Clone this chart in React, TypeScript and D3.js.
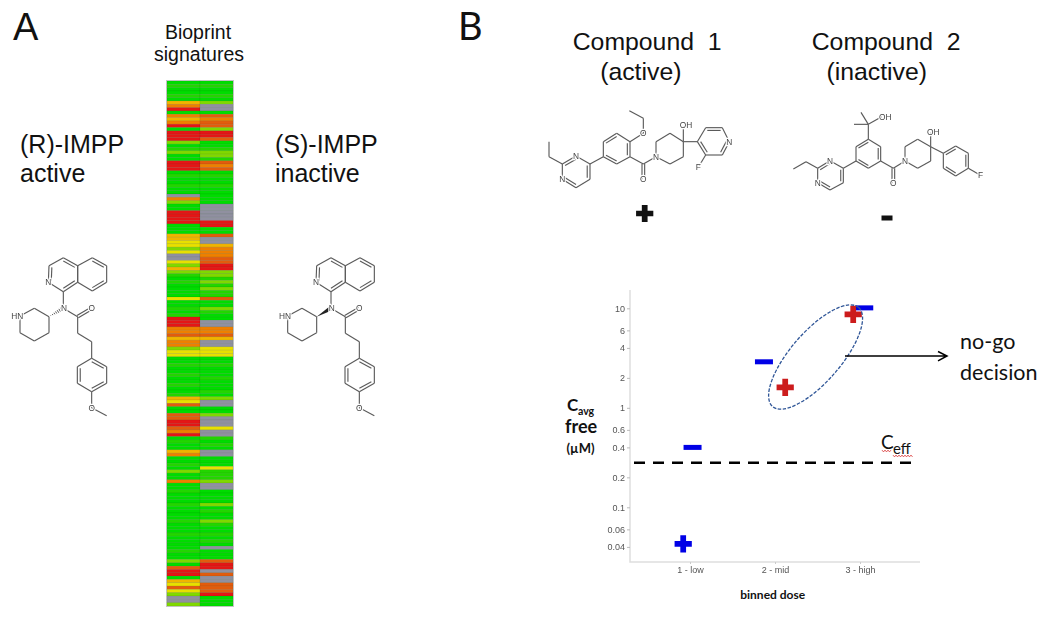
import * as d3 from 'd3';

// heatmap rows, one letter per target, read top to bottom from the picture
// G/g green, L lime, Y yellow, A amber, O orange, D dark orange, R red, X no data
const activeRows =
  'GgGGgGAORGOAORGRRRLGgLGGRRRGgGGgGGXOLGGRRRRGGGAAYYLY' +
  'XXYLALgGgGGGGYGGgGgRRROODAOOLYYGGgGGgGGgGGgAYDGGDDRR' +
  'DORGgGGAOGGgGLGGOGGgGGGgGGGGgGGGgGGGGgGGLGDRRGAYDYLXXL';
const inactiveRows =
  'GgGGgGLXXGDODDLRRDGGgLLgDODGgGGgGGGGGXXXXXRRGGDXXAOO' +
  'ODDRRLLgLgLggDGGLgGGXXOODAXXYYYGGgGGGgGGGgGLXXGGLXXX' +
  'YXXgGgGXXGGGYgggLXXGGGGLGgGGLgGGgGgGXGGGDRRXDXXDDDRG';
const heatColumns = ['(R)-IMPP', '(S)-IMPP'];
const heatCodes = ['G', 'g', 'L', 'Y', 'A', 'O', 'D', 'R', 'X'];
const heatColors = ['#00dc00', '#22d600', '#80d800', '#e8e000', '#f0b400', '#ee8000', '#e25c10', '#e41414', '#9090a0'];

// exposure plot
const doseLabels = ['1 - low', '2 - mid', '3 - high'];
const doseBins = [1, 2, 3];
const cavgTicks = [0.04, 0.06, 0.1, 0.2, 0.4, 0.6, 1, 2, 4, 6, 10];
const activeDose = [0.92, 2.12, 2.92];
const activeCavg = [0.043, 1.6, 8.7];
const activeColor = ['#0000e6', '#cc1a1f', '#cc1a1f'];
const inactiveDose = [1.03, 1.87, 3.05];
const inactiveCavg = [0.4, 2.9, 10.1];
const ceff = 0.28;

const ARIAL = '"Liberation Sans", Arial, sans-serif';
const CALIBRI = 'Lato, "Open Sans", sans-serif';

type Mol = {
  atoms: Record<string, number[]>;
  bonds: string;
  rings: { path: string; dbl: number[] }[];
  carbonyl?: string[];
  wedge?: { from: string; to: string; hashed: boolean };
  labels: { text: string; x: number; y: number }[];
};

// the structures are drawn in the 3x crop coordinates they were read at
const impp = (hashed: boolean): Mol => ({
  atoms: {
    c1: [190, 155], n: [145, 127], c3: [147, 77], c4: [190, 53], c4a: [233, 77], c8a: [233, 127],
    c5: [277, 53], c6: [320, 77], c7: [320, 127], c8: [277, 153],
    am: [190, 205], p3: [147, 230], p2: [103, 205], nh: [60, 228], p6: [60, 278], p5: [103, 303], p4: [147, 278],
    co: [233, 230], o: [275, 205], ch1: [233, 280], ch2: [275, 305],
    a1: [275, 355], a2: [320, 380], a3: [320, 430], a4: [275, 455], a5: [232, 430], a6: [232, 380],
    ome: [275, 503], me: [320, 527],
  },
  bonds: 'c1-am am-co co-ch1 ch1-ch2 ch2-a1 p3-p2 p2-nh nh-p6 p6-p5 p5-p4 p4-p3 a4-ome ome-me',
  rings: [
    { path: 'c1 n c3 c4 c4a c8a', dbl: [1, 3, 5] },
    { path: 'c4a c5 c6 c7 c8 c8a', dbl: [1, 3] },
    { path: 'a1 a2 a3 a4 a5 a6', dbl: [0, 2, 4] },
  ],
  carbonyl: ['co', 'o'],
  wedge: { from: 'p3', to: 'am', hashed },
  labels: [
    { text: 'N', x: 145, y: 127 }, { text: 'N', x: 192, y: 205 }, { text: 'HN', x: 52, y: 228 },
    { text: 'O', x: 275, y: 203 }, { text: 'O', x: 275, y: 503 },
  ],
});

const compound1: Mol = {
  atoms: {
    et2: [27, 155], et1: [27, 200], c2: [67, 222], n3: [108, 198], c4: [150, 222], c5: [150, 268], c6: [108, 293], n1: [67, 268],
    b1: [190, 200], b2: [190, 155], b3: [230, 130], b4: [270, 155], b5: [270, 200], b6: [230, 222],
    oe: [310, 130], oe1: [310, 85], oe2: [268, 62],
    co: [310, 222], o: [310, 268],
    pn: [348, 200], q2: [348, 155], q3: [390, 130], q4: [430, 155], q5: [430, 200], q6: [390, 222],
    oh: [430, 108],
    r1: [472, 155], r2: [497, 113], r3: [547, 113], r4: [568, 155], r5: [547, 195], r6: [497, 195], f: [475, 232],
  },
  bonds: 'et2-et1 et1-c2 c4-b1 b4-oe oe-oe1 oe1-oe2 b5-co co-pn pn-q2 q2-q3 q3-q4 q4-q5 q5-q6 q6-pn q4-oh q4-r1 r6-f',
  rings: [
    { path: 'c2 n3 c4 c5 c6 n1', dbl: [0, 2, 4] },
    { path: 'b1 b2 b3 b4 b5 b6', dbl: [1, 3, 5] },
    { path: 'r1 r2 r3 r4 r5 r6', dbl: [1, 3, 5] },
  ],
  carbonyl: ['co', 'o'],
  labels: [
    { text: 'N', x: 108, y: 198 }, { text: 'N', x: 67, y: 268 }, { text: 'O', x: 310, y: 130 }, { text: 'O', x: 310, y: 268 },
    { text: 'N', x: 348, y: 200 }, { text: 'OH', x: 438, y: 106 }, { text: 'N', x: 568, y: 155 }, { text: 'F', x: 475, y: 232 },
  ],
};

const compound2: Mol = {
  atoms: {
    et2: [40, 237], et1: [78, 215], c2: [113, 235], n3: [150, 212], c4: [190, 235], c5: [190, 278], c6: [150, 300], n1: [113, 278],
    b1: [228, 213], b2: [228, 170], b3: [265, 148], b4: [302, 170], b5: [302, 213], b6: [265, 235],
    t: [265, 103], m1: [243, 67], m2: [222, 103], toh: [305, 80],
    co: [340, 235], o: [340, 280],
    pn: [375, 213], q2: [375, 170], q3: [413, 148], q4: [452, 170], q5: [452, 213], q6: [413, 235],
    oh: [452, 128],
    r1: [490, 190], r2: [527, 168], r3: [565, 190], r4: [565, 235], r5: [527, 258], r6: [490, 235], f: [600, 255],
  },
  bonds: 'et2-et1 et1-c2 c4-b1 b3-t t-m1 t-m2 t-toh b5-co co-pn pn-q2 q2-q3 q3-q4 q4-q5 q5-q6 q6-pn q4-oh q4-r1 r4-f',
  rings: [
    { path: 'c2 n3 c4 c5 c6 n1', dbl: [0, 2, 4] },
    { path: 'b1 b2 b3 b4 b5 b6', dbl: [1, 3, 5] },
    { path: 'r1 r2 r3 r4 r5 r6', dbl: [0, 2, 4] },
  ],
  carbonyl: ['co', 'o'],
  labels: [
    { text: 'N', x: 150, y: 212 }, { text: 'N', x: 113, y: 278 }, { text: 'OH', x: 316, y: 80 }, { text: 'O', x: 340, y: 280 },
    { text: 'N', x: 375, y: 213 }, { text: 'OH', x: 460, y: 125 }, { text: 'F', x: 602, y: 255 },
  ],
};

function Molecule({ mol, x, y }: { mol: Mol; x: number; y: number }) {
  const line = d3.line();
  const segs: [number, number][][] = [];
  const add = (a: number[], b: number[]) => segs.push([[a[0], a[1]], [b[0], b[1]]]);

  mol.bonds.split(' ').forEach(b => {
    const [p, q] = b.split('-');
    add(mol.atoms[p], mol.atoms[q]);
  });

  // ring bonds, second line of a double goes to the inside of the ring
  mol.rings.forEach(ring => {
    const ids = ring.path.split(' ');
    const pts = ids.map(i => mol.atoms[i]);
    const cx = d3.mean(pts, p => p[0])!;
    const cy = d3.mean(pts, p => p[1])!;
    pts.forEach((p, i) => {
      const q = pts[(i + 1) % pts.length];
      add(p, q);
      if (ring.dbl.includes(i)) {
        const t = 0.8;
        const ix = (v: number, c: number) => c + (v - c) * t;
        add([ix(p[0], cx), ix(p[1], cy)], [ix(q[0], cx), ix(q[1], cy)]);
      }
    });
  });

  if (mol.carbonyl) {
    const a = mol.atoms[mol.carbonyl[0]];
    const b = mol.atoms[mol.carbonyl[1]];
    const len = Math.hypot(b[0] - a[0], b[1] - a[1]);
    const nx = ((b[1] - a[1]) / len) * 4;
    const ny = ((a[0] - b[0]) / len) * 4;
    add([a[0] + nx, a[1] + ny], [b[0] + nx, b[1] + ny]);
    add([a[0] - nx, a[1] - ny], [b[0] - nx, b[1] - ny]);
  }

  let wedge = null;
  if (mol.wedge) {
    const a = mol.atoms[mol.wedge.from];
    const b = mol.atoms[mol.wedge.to];
    const nx = -(b[1] - a[1]) / 50;
    const ny = (b[0] - a[0]) / 50;
    if (mol.wedge.hashed) {
      wedge = d3.range(1, 8).map(i => {
        const t = i / 8;
        const px = a[0] + (b[0] - a[0]) * t;
        const py = a[1] + (b[1] - a[1]) * t;
        const w = 7 * t;
        return <line key={i} x1={px - nx * w} y1={py - ny * w} x2={px + nx * w} y2={py + ny * w} stroke="#333" strokeWidth={2.5} />;
      });
    } else {
      wedge = <path d={`M${a[0]},${a[1]}L${b[0] + nx * 7},${b[1] + ny * 7}L${b[0] - nx * 7},${b[1] - ny * 7}Z`} fill="#222" />;
    }
  }

  return (
    <g transform={`translate(${x},${y}) scale(${1 / 3})`} filter="url(#soft3)">
      {segs.map((s, i) => (
        <path key={i} d={line(s)!} stroke="#5a5a5a" strokeWidth={3.4} fill="none" />
      ))}
      {wedge}
      {mol.labels.map((l, i) => (
        <text
          key={i}
          x={l.x}
          y={l.y + 9}
          textAnchor="middle"
          fontFamily={ARIAL}
          fontSize={25}
          fill="#444"
          stroke="#fff"
          strokeWidth={7}
          paintOrder="stroke"
        >
          {l.text}
        </text>
      ))}
    </g>
  );
}

export default function App() {
  const width = 1050;
  const height = 618;

  // heatmap scales
  const rowIds = d3.range(activeRows.length);
  const yRow = d3.scaleBand<number>().domain(rowIds).range([81, 606]);
  const xCol = d3.scaleBand<string>().domain(heatColumns).range([167, 233]);
  const heatColor = d3.scaleOrdinal<string, string>().domain(heatCodes).range(heatColors);
  const heatColumnsData = [activeRows, inactiveRows];

  // plot scales, log scale fixed on the 0.1 and 10 ticks
  const yCavg = d3.scaleLog().domain([0.1, 10]).range([507.3, 308.3]);
  const xDose = d3.scaleLinear().domain([1, 3]).range([690, 860]);
  const plotLeft = 630;
  const plotRight = 920;
  const plotTop = 290;
  const plotBottom = 562;

  const plus = d3.symbol().type(d3.symbolCross).size(165)()!;

  // spellcheck squiggle under Ceff
  const squiggle = (x0: number, x1: number, y: number) =>
    d3.line()(d3.range(x0, x1 + 0.1, 1.5).map((x, i) => [x, y + (i % 2 ? 0.9 : -0.9)] as [number, number]))!;

  return (
    <svg
      width={width}
      height={height}
      style={{ position: 'absolute', left: 0, top: 0, background: '#fff' }}
    >
      <defs>
        <filter id="soft" x="-5%" y="-5%" width="110%" height="110%">
          <feGaussianBlur stdDeviation="0.55" />
        </filter>
        <filter id="soft3" x="-5%" y="-5%" width="110%" height="110%">
          <feGaussianBlur stdDeviation="1.1" />
        </filter>
      </defs>

      {/* panel letters */}
      <text x={13} y={40} fontFamily={ARIAL} fontSize={38} fill="#111">A</text>
      <text x={458} y={40} fontFamily={CALIBRI} fontSize={38} fill="#111">B</text>

      {/* panel A labels */}
      <g fontFamily={ARIAL} fill="#111">
        <text x={198} y={39} textAnchor="middle" fontSize={19.5}>Bioprint</text>
        <text x={199} y={61} textAnchor="middle" fontSize={19.5}>signatures</text>
        <text x={20} y={153} fontSize={25}>(R)-IMPP</text>
        <text x={20} y={182} fontSize={25}>active</text>
        <text x={275} y={153} fontSize={25}>(S)-IMPP</text>
        <text x={275} y={182} fontSize={25}>inactive</text>
      </g>

      {/* heatmap */}
      <g filter="url(#soft)">
        <rect x={166} y={80} width={68} height={527} fill="#c9c9c9" />
        {heatColumns.map((col, c) =>
          rowIds.map(r => (
            <rect
              key={col + r}
              x={xCol(col)}
              y={yRow(r)}
              width={xCol.bandwidth()}
              height={yRow.bandwidth()}
              fill={heatColor(heatColumnsData[c][r])}
              stroke="rgba(0,60,0,0.13)"
              strokeWidth={0.6}
            />
          ))
        )}
      </g>

      <Molecule mol={impp(true)} x={0} y={240} />
      <Molecule mol={impp(false)} x={267.67} y={240} />

      {/* panel B titles */}
      <g fontFamily={ARIAL} fill="#111" fontSize={24.8}>
        <text x={572.7} y={49.5} style={{ whiteSpace: 'pre' }}>{'Compound  1'}</text>
        <text x={640.8} y={80} textAnchor="middle">(active)</text>
        <text x={811.7} y={49.5} style={{ whiteSpace: 'pre' }}>{'Compound  2'}</text>
        <text x={876.7} y={80} textAnchor="middle">(inactive)</text>
      </g>

      <Molecule mol={compound1} x={540} y={90} />
      <Molecule mol={compound2} x={780} y={90} />

      {/* activity signs under the structures */}
      <path d={plus} transform="translate(644.7,213.5)" fill="#111" />
      <rect x={881.5} y={215.5} width={11} height={5} fill="#111" />

      {/* exposure plot */}
      <g filter="url(#soft)">
        <path
          d={`M${plotLeft},${plotTop}V${plotBottom}H${plotRight}`}
          fill="none"
          stroke="#dedede"
          strokeWidth={1.5}
        />
        <g
          transform={`translate(${plotLeft},0)`}
          ref={node => {
            if (!node) return;
            const axis = d3.axisLeft(yCavg).tickValues(cavgTicks).tickFormat(d => String(d)).tickSize(3).tickPadding(2);
            const g = d3.select(node).call(axis as any);
            g.select('.domain').remove();
            g.selectAll('line').attr('stroke', '#bbb');
            g.selectAll('text').attr('fill', '#555').attr('font-size', 9).attr('font-family', ARIAL);
          }}
        />
        <g
          transform={`translate(0,${plotBottom})`}
          ref={node => {
            if (!node) return;
            const axis = d3.axisBottom(xDose).tickValues(doseBins).tickFormat((d, i) => doseLabels[i]).tickSize(2).tickPadding(3);
            const g = d3.select(node).call(axis as any);
            g.select('.domain').remove();
            g.selectAll('line').attr('stroke', '#ccc');
            g.selectAll('text').attr('fill', '#555').attr('font-size', 9).attr('font-family', ARIAL);
          }}
        />

        {/* Ceff line */}
        <line
          x1={634}
          x2={911}
          y1={yCavg(ceff)}
          y2={yCavg(ceff)}
          stroke="#000"
          strokeWidth={2.6}
          strokeDasharray="11 8"
        />

        {/* inactive compound */}
        {inactiveDose.map((d, i) => (
          <rect
            key={i}
            x={xDose(d) - 9}
            y={yCavg(inactiveCavg[i]) - 2.5}
            width={18}
            height={5}
            fill="#0000e6"
          />
        ))}

        {/* active compound */}
        {activeDose.map((d, i) => (
          <path
            key={i}
            d={plus}
            transform={`translate(${xDose(d)},${yCavg(activeCavg[i])})`}
            fill={activeColor[i]}
          />
        ))}

        {/* no-go circle and arrow */}
        <ellipse
          cx={815.6}
          cy={357}
          rx={65.6}
          ry={25}
          transform="rotate(-49 815.6 357)"
          fill="none"
          stroke="#2f5597"
          strokeWidth={1.3}
          strokeDasharray="3.5 1.5"
        />
        <path d="M845,356H947M938,351.5L947,356L938,360.8" fill="none" stroke="#000" strokeWidth={1.5} />
      </g>

      {/* plot labels */}
      <g fontFamily={CALIBRI} fill="#111">
        <text x={567} y={410.5} fontSize={17} fontWeight={700}>C</text>
        <text x={578} y={415} fontSize={10.5} fontWeight={700}>avg</text>
        <text x={565} y={433} fontSize={18} fontWeight={700}>free</text>
        <text x={566.5} y={453} fontSize={13} fontWeight={700}>(µM)</text>
        <text x={772.7} y={599} textAnchor="middle" fontSize={12} fontWeight={700}>binned dose</text>
        <text x={881} y={449} fontSize={19}>C</text>
        <text x={893} y={454} fontSize={15}>eff</text>
        <text x={960} y={349} fontSize={21.5}>no-go</text>
        <text x={960} y={380} fontSize={21.5}>decision</text>
      </g>
      <path d={squiggle(882, 892, 451)} fill="none" stroke="#d83030" strokeWidth={0.8} />
      <path d={squiggle(893, 913, 456)} fill="none" stroke="#d83030" strokeWidth={0.8} />
    </svg>
  );
}
